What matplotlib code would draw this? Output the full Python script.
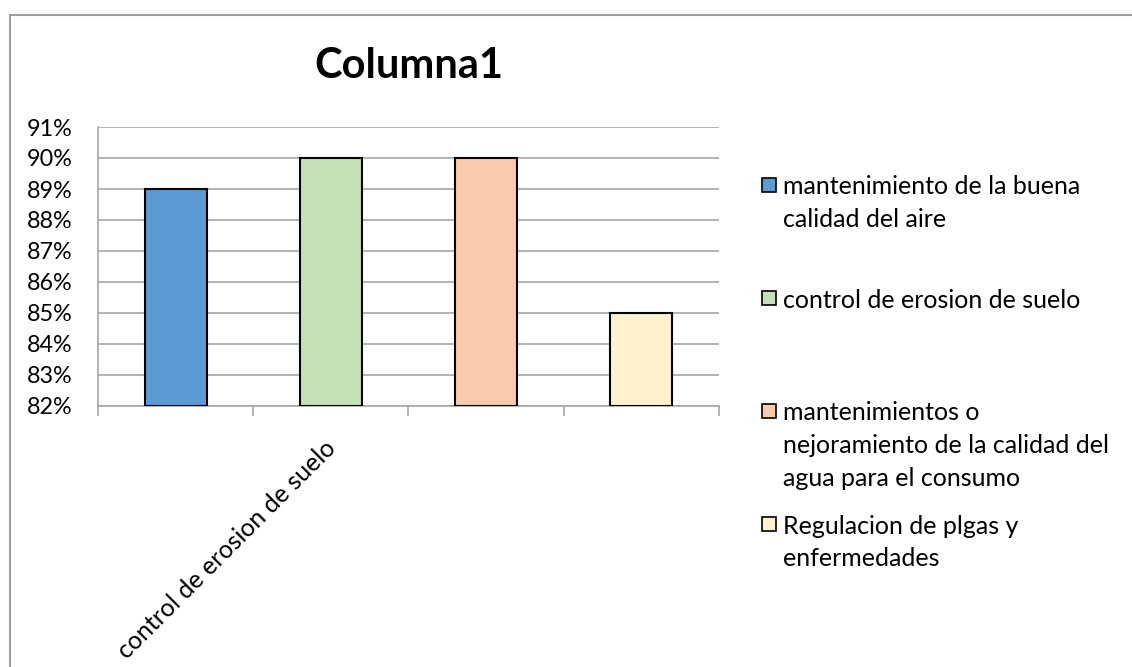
import matplotlib
matplotlib.use("Agg")
import matplotlib.pyplot as plt
from matplotlib.patches import Rectangle
from matplotlib.lines import Line2D
import matplotlib.ticker as mticker
import matplotlib.transforms as mtrans

plt.rcParams['font.family'] = ['Lato', 'DejaVu Sans']

title = "Columna1"
series = ["mantenimiento de la buena\ncalidad del aire",
          "control de erosion de suelo",
          "mantenimientos o\nnejoramiento de la calidad del\nagua para el consumo",
          "Regulacion de plgas y\nenfermedades"]
values = [0.89, 0.90, 0.90, 0.85]
xtick_labels = ["", "control de erosion de suelo", "", ""]
colors = ["#5B9BD5", "#C5E0B4", "#F8CBAD", "#FFF2CC"]

W, H = 1132, 667
fig = plt.figure(figsize=(W / 100, H / 100), dpi=100)

def fx(px):
    return px / W

def fy(py):
    return 1 - py / H

# plot area: x 98..719, y 127..406
ax = fig.add_axes([fx(98), fy(406), fx(719) - fx(98), fy(127) - fy(406)])
x = list(range(len(values)))
ax.bar(x, [v - 0.82 for v in values], bottom=0.82, width=0.4, color=colors,
       edgecolor="black", linewidth=1.5, zorder=3)
ax.set_xlim(-0.5, 3.5)
ax.set_ylim(0.82, 0.91)
ax.yaxis.set_major_locator(mticker.MultipleLocator(0.01))
ax.yaxis.set_major_formatter(mticker.FuncFormatter(lambda v, p: f"{v*100:.0f}%"))
ax.grid(axis="y", color="#A6A6A6", linewidth=1.2, zorder=0)
for s in ["top", "right"]:
    ax.spines[s].set_visible(False)
ax.spines["left"].set_color("#A6A6A6")
ax.spines["bottom"].set_color("#A6A6A6")
ax.spines["left"].set_linewidth(1.2)
ax.spines["bottom"].set_linewidth(1.2)
ax.tick_params(axis="y", length=0, labelsize=16.8, pad=18.5)
# x ticks at category boundaries (minor), labels at centers (major)
ax.set_xticks(x)
ax.set_xticklabels(xtick_labels, rotation=45, ha="right", rotation_mode="anchor",
                   fontsize=18)
ax.tick_params(axis="x", which="major", length=0, pad=20)
ax.set_xticks([i - 0.5 for i in range(len(values) + 1)], minor=True)
ax.tick_params(axis="x", which="minor", length=7, color="#A6A6A6", width=1.2)
offset = mtrans.ScaledTranslation(-7 / 100, -3 / 100, fig.dpi_scale_trans)
for lab in ax.get_xticklabels():
    lab.set_transform(lab.get_transform() + offset)

fig.text(fx(409), fy(66), title, ha="center", va="center", fontsize=30,
         fontweight="bold")

# legend
first_line_y = [185, 298, 411, 524]
line_step = 32.5
for lab, col, yy in zip(series, colors, first_line_y):
    fig.patches.append(Rectangle((fx(762), fy(yy + 7)), fx(14), 14 / H,
                                 facecolor=col, edgecolor="black", linewidth=1.2,
                                 transform=fig.transFigure, figure=fig))
    for i, line in enumerate(lab.split("\n")):
        fig.text(fx(783), fy(yy + i * line_step), line, ha="left",
                 va="center_baseline", fontsize=18, transform=fig.transFigure)

# outer border
fig.lines.append(Line2D([fx(10), fx(10)], [fy(15), 0], color="#A0A0A0", linewidth=1.5,
                        transform=fig.transFigure, figure=fig))
fig.lines.append(Line2D([fx(10), 1], [fy(15), fy(15)], color="#A0A0A0", linewidth=1.5,
                        transform=fig.transFigure, figure=fig))

fig.savefig("out.png", dpi=100)
